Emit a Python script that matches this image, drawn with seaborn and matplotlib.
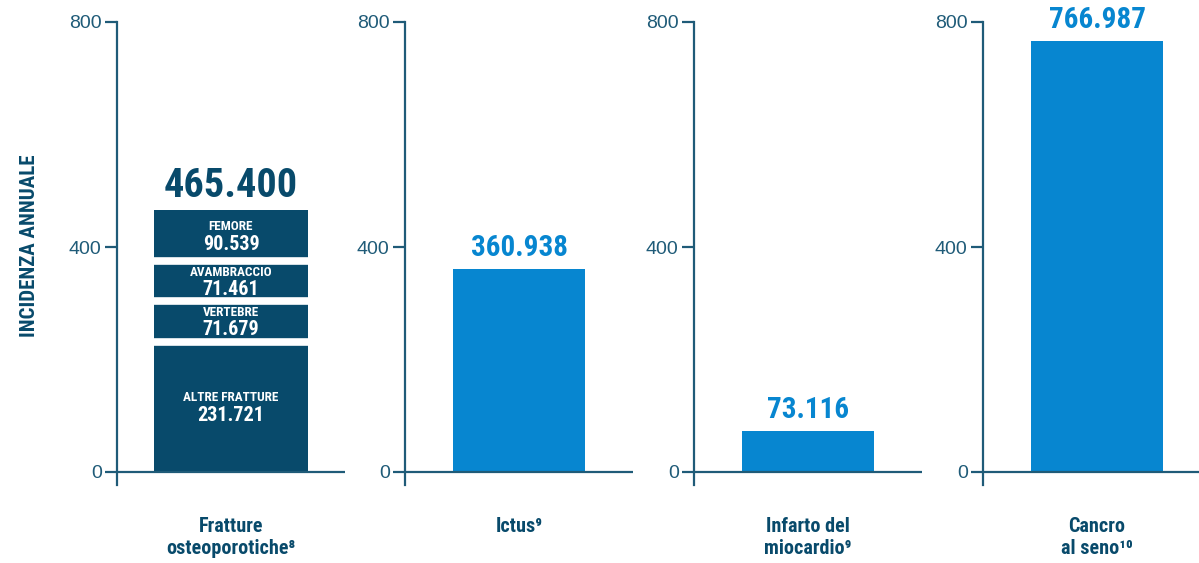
import numpy as np
import matplotlib
matplotlib.use("Agg")
import matplotlib.pyplot as plt
import seaborn as sns

# Data (migliaia di casi / anno)
categories = ["Fratture\nosteoporotiche", "Ictus", "Infarto del\nmiocardio", "Cancro\nal seno"]
refs = ["⁸", "⁹", "⁹", "¹⁰"]
totals = [465.400, 360.938, 73.116, 766.987]

# fratture: segmenti dal basso verso l'alto
fracture_parts = ["ALTRE FRATTURE", "VERTEBRE", "AVAMBRACCIO", "FEMORE"]
fracture_values = [231.721, 71.679, 71.461, 90.539]

y_ticks = [0, 400, 800]

# Colours / fonts
dark = "#084a6b"
blue = "#0786d0"
axis_col = "#1f5b78"
cond = ["Roboto Condensed", "DejaVu Sans"]

sns.set_theme(style="white")
plt.rcParams["font.family"] = cond
plt.rcParams["font.stretch"] = "condensed"

fig = plt.figure(figsize=(11.99, 5.63), dpi=100)

lefts = [117, 405, 694, 983]
ax_bottom = (563 - 485) / 563
ax_height = (485 - 22) / 563
ax_width = 228 / 1199
ymin = -13 * 800 / 450

for i, cat in enumerate(categories):
    ax = fig.add_axes([lefts[i] / 1199, ax_bottom, ax_width, ax_height])

    if i == 0:
        cum = np.cumsum(fracture_values)
        # draw cumulative bars from the top so each segment overlays the previous
        for c in cum[::-1]:
            sns.barplot(x=[cat], y=[c], ax=ax, color=dark, width=0.675,
                        saturation=1, edgecolor="none")
        # white separators between segments
        ax.hlines(cum[:-1], -0.36, 0.36, colors="white", lw=5.5, zorder=4)
        bottoms = np.concatenate([[0], cum[:-1]])
        for name, v, b in zip(fracture_parts, fracture_values, bottoms):
            mid = b + v / 2
            ax.annotate(name, (0, mid), xytext=(0, 6.5), textcoords="offset points",
                        ha="center", va="center", color="white", fontsize=9.5,
                        fontweight="bold", zorder=6)
            ax.annotate(f"{v:.3f}", (0, mid), xytext=(0, -6), textcoords="offset points",
                        ha="center", va="center", color="white", fontsize=14.5,
                        fontweight="bold", zorder=6)
        ax.annotate(f"{totals[i]:.3f}", (0, cum[-1]), xytext=(0, 4),
                    textcoords="offset points", ha="center", va="bottom",
                    color=dark, fontsize=29, fontweight="bold")
    else:
        sns.barplot(x=[cat], y=[totals[i]], ax=ax, color=blue, width=0.583,
                    saturation=1, edgecolor="none")
        ax.annotate(f"{totals[i]:.3f}", (0, totals[i]), xytext=(0, 5),
                    textcoords="offset points", ha="center", va="bottom",
                    color=blue, fontsize=21, fontweight="bold")

    ax.set_xlim(-0.5, 0.5)
    ax.set_ylim(ymin, 800)
    ax.axhline(0, color=axis_col, lw=1.6, zorder=5)

    for s in ["top", "right", "bottom"]:
        ax.spines[s].set_visible(False)
    ax.spines["left"].set_color(axis_col)
    ax.spines["left"].set_linewidth(1.6)

    ax.set_yticks(y_ticks)
    ax.set_yticklabels([str(t) for t in y_ticks], family="Liberation Sans",
                       fontsize=14, color=axis_col)
    ax.tick_params(axis="y", direction="out", length=9, width=1.6,
                   color=axis_col, pad=2, left=True)
    ax.set_xticks([])
    ax.set_xlabel("")
    ax.set_ylabel("")
    ax.patch.set_alpha(0)

    ax.text(0, -80, cat + refs[i], ha="center", va="top", color=dark,
            fontsize=14.5, fontweight="bold", linespacing=1.2, clip_on=False)

fig.text(30 / 1199, 1 - 246 / 563, "INCIDENZA ANNUALE", rotation=90,
         ha="center", va="center", color=dark, fontsize=15, fontweight="bold")

fig.savefig("out.png", dpi=100)
